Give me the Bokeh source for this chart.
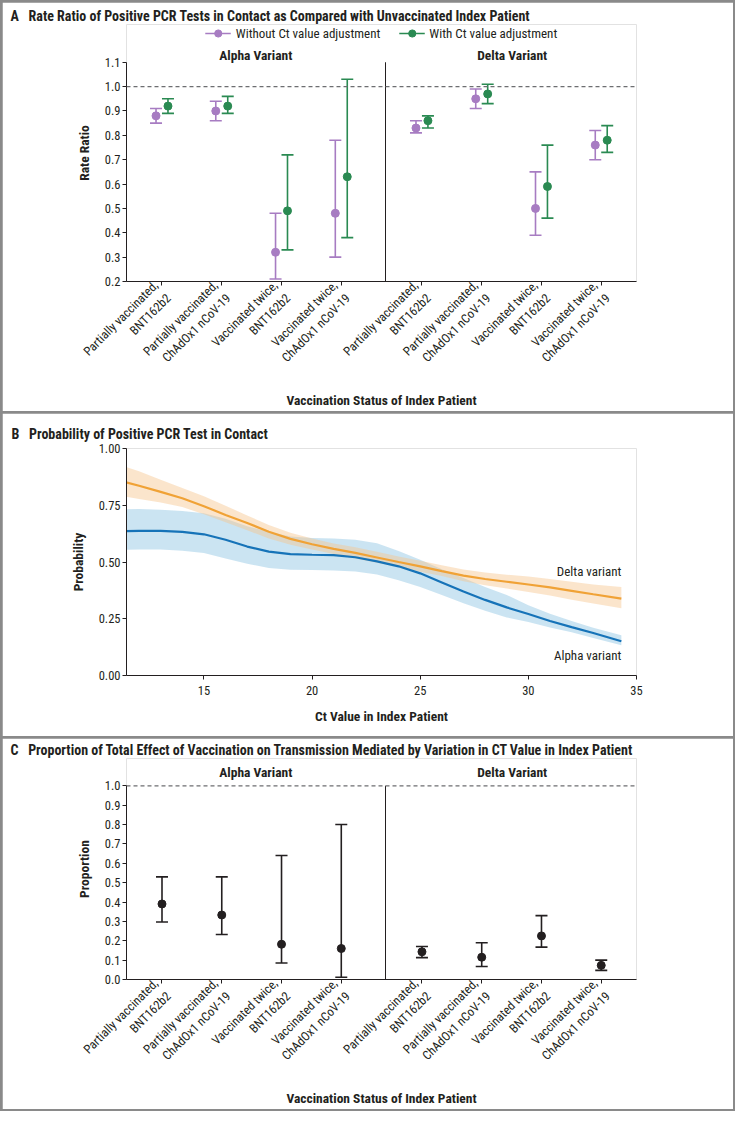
import numpy as np
from bokeh.plotting import figure
from bokeh.models import (Range1d, FixedTicker, Label, Legend, LegendItem, Span,
                          PrintfTickFormatter)
from bokeh.layouts import column
from bokeh.embed import file_html
from bokeh.resources import INLINE

FONT = "Roboto Condensed, DejaVu Sans Condensed, Lato, sans-serif"
TXT = "#231f20"
PURPLE = "#a77cc2"
GREEN = "#2a8a52"
BLUE = "#1673b8"
ORANGE = "#f0a236"

# ---------------- data ----------------
categories = ["Partially vaccinated,\nBNT162b2", "Partially vaccinated,\nChAdOx1 nCoV-19",
              "Vaccinated twice,\nBNT162b2", "Vaccinated twice,\nChAdOx1 nCoV-19"]

# Panel A: rate ratio (without / with Ct value adjustment)
alpha_wo = [0.88, 0.90, 0.32, 0.48]
alpha_wo_lo = [0.85, 0.86, 0.21, 0.30]
alpha_wo_hi = [0.91, 0.94, 0.48, 0.78]
alpha_w = [0.92, 0.92, 0.49, 0.63]
alpha_w_lo = [0.89, 0.89, 0.33, 0.38]
alpha_w_hi = [0.95, 0.96, 0.72, 1.03]
delta_wo = [0.83, 0.95, 0.50, 0.76]
delta_wo_lo = [0.81, 0.91, 0.39, 0.70]
delta_wo_hi = [0.86, 0.99, 0.65, 0.82]
delta_w = [0.86, 0.97, 0.59, 0.78]
delta_w_lo = [0.83, 0.93, 0.46, 0.73]
delta_w_hi = [0.88, 1.01, 0.76, 0.84]

# Panel B: probability of positive PCR test by Ct value
ct = [11.4, 12, 13, 14, 15, 16, 17, 18, 19, 20, 21, 22, 23, 24, 25, 26, 27, 28, 29, 30, 31, 32, 33, 34.3]
delta_prob = [0.851, 0.836, 0.809, 0.781, 0.746, 0.707, 0.672, 0.633, 0.602, 0.578, 0.558, 0.540,
              0.520, 0.500, 0.481, 0.460, 0.440, 0.425, 0.413, 0.401, 0.388, 0.373, 0.358, 0.339]
delta_prob_lo = [0.787, 0.778, 0.762, 0.742, 0.710, 0.675, 0.640, 0.603, 0.576, 0.555, 0.535, 0.515,
                 0.497, 0.478, 0.457, 0.438, 0.415, 0.398, 0.383, 0.368, 0.352, 0.334, 0.317, 0.296]
delta_prob_hi = [0.918, 0.900, 0.862, 0.826, 0.790, 0.748, 0.705, 0.663, 0.629, 0.603, 0.582, 0.565,
                 0.545, 0.524, 0.506, 0.486, 0.467, 0.454, 0.444, 0.436, 0.425, 0.413, 0.401, 0.390]
alpha_prob = [0.636, 0.637, 0.637, 0.633, 0.622, 0.598, 0.568, 0.546, 0.535, 0.532, 0.530, 0.521,
              0.503, 0.481, 0.450, 0.410, 0.370, 0.333, 0.300, 0.271, 0.240, 0.213, 0.187, 0.151]
alpha_prob_lo = [0.554, 0.555, 0.555, 0.550, 0.540, 0.515, 0.492, 0.474, 0.466, 0.465, 0.463, 0.458,
                 0.445, 0.420, 0.390, 0.355, 0.318, 0.285, 0.256, 0.236, 0.212, 0.190, 0.165, 0.133]
alpha_prob_hi = [0.732, 0.733, 0.730, 0.725, 0.715, 0.690, 0.658, 0.633, 0.612, 0.606, 0.603, 0.598,
                 0.583, 0.548, 0.510, 0.468, 0.430, 0.390, 0.355, 0.310, 0.272, 0.240, 0.210, 0.177]

# Panel C: proportion mediated by Ct value
prop_alpha = [0.39, 0.333, 0.182, 0.16]
prop_alpha_lo = [0.297, 0.232, 0.085, 0.012]
prop_alpha_hi = [0.53, 0.53, 0.64, 0.80]
prop_delta = [0.143, 0.115, 0.225, 0.073]
prop_delta_lo = [0.113, 0.067, 0.167, 0.047]
prop_delta_hi = [0.17, 0.19, 0.33, 0.10]

# ---------------- layout helpers ----------------
W = 731
alpha_pos = [1.0, 2.0, 3.0, 4.0]
delta_pos = [5.35, 6.35, 7.35, 8.35]
SEP = 4.74
XR = (0.406, 8.94)
DODGE = 0.1
NB = "\u00a0"


def base_fig(h, xr, yr, left, right, top, bottom):
    p = figure(width=W, height=h, x_range=Range1d(*xr), y_range=Range1d(*yr),
               output_backend="svg", toolbar_location=None,
               min_border_left=left, min_border_right=right,
               min_border_top=top, min_border_bottom=bottom)
    p.outline_line_color = None
    p.xgrid.visible = False
    p.ygrid.visible = False
    p.background_fill_color = "white"
    p.border_fill_color = "white"
    for ax in (p.xaxis[0], p.yaxis[0]):
        ax.axis_line_color = TXT
        ax.major_tick_line_color = TXT
        ax.minor_tick_line_color = None
        ax.major_tick_out = 4
        ax.major_tick_in = 0
        ax.major_label_text_font = FONT
        ax.major_label_text_font_size = "12.5px"
        ax.major_label_text_color = TXT
        ax.axis_label_text_font = FONT
        ax.axis_label_text_font_size = "13.5px"
        ax.axis_label_text_font_style = "bold"
        ax.axis_label_text_color = TXT
    p.yaxis.major_label_standoff = 2
    return p


def panel_title(p, letter, text, offset, standoff):
    p.title.text = letter + NB * 3 + text
    p.title.align = "left"
    p.title.offset = offset
    p.title.standoff = standoff
    p.title.text_font = FONT
    p.title.text_font_size = "14px"
    p.title.text_font_style = "bold"
    p.title.text_color = TXT


def header(p, x, y, text):
    p.add_layout(Label(x=x, y=y, text=text, text_align="center", text_baseline="middle",
                       text_font=FONT, text_font_size="13.5px", text_font_style="bold",
                       text_color=TXT))


def errorbars(p, xs, mid, lo, hi, color, size, cap):
    seg = p.segment(x0=xs, y0=lo, x1=xs, y1=hi, line_color=color, line_width=1.6)
    p.scatter(x=xs, y=lo, marker="dash", size=cap, line_color=color, line_width=1.6)
    p.scatter(x=xs, y=hi, marker="dash", size=cap, line_color=color, line_width=1.6)
    pts = p.scatter(x=xs, y=mid, marker="circle", size=size, fill_color=color, line_color=color)
    return seg, pts


def category_axis(p):
    p.xaxis.ticker = FixedTicker(ticks=alpha_pos + delta_pos)
    p.xaxis.major_label_overrides = {float(v): lab for v, lab in
                                     zip(alpha_pos + delta_pos, categories + categories)}
    p.xaxis.major_label_orientation = np.pi / 4
    p.xaxis.major_label_standoff = 4
    p.xaxis.major_label_text_font_size = "12.5px"
    p.xaxis.axis_label = "Vaccination Status of Index Patient"
    p.xaxis.axis_label_standoff = 6


# ---------------- Panel A ----------------
pA = base_fig(409, XR, (0.2, 1.255), 124, 87, 22, 124)
pA.yaxis.bounds = (0.2, 1.1)
pA.yaxis.ticker = FixedTicker(ticks=[0.2, 0.3, 0.4, 0.5, 0.6, 0.7, 0.8, 0.9, 1.0, 1.1])
pA.yaxis.formatter = PrintfTickFormatter(format="%.1f")
pA.yaxis.axis_label = "Rate Ratio"
pA.yaxis.axis_label_standoff = 10
category_axis(pA)
pA.add_layout(Span(location=1.0, dimension="width", line_color="#6d6e71",
                   line_dash="4 3", line_width=1.2))
pA.segment(x0=[SEP], y0=[0.2], x1=[SEP], y1=[1.1], line_color=TXT, line_width=1)

ax_wo = [x - DODGE for x in alpha_pos] + [x - DODGE for x in delta_pos]
ax_w = [x + DODGE for x in alpha_pos] + [x + DODGE for x in delta_pos]
seg_wo, pts_wo = errorbars(pA, ax_wo, alpha_wo + delta_wo, alpha_wo_lo + delta_wo_lo,
                           alpha_wo_hi + delta_wo_hi, PURPLE, 8, 12)
seg_w, pts_w = errorbars(pA, ax_w, alpha_w + delta_w, alpha_w_lo + delta_w_lo,
                         alpha_w_hi + delta_w_hi, GREEN, 8, 12)
legA = Legend(items=[LegendItem(label="Without Ct value adjustment", renderers=[seg_wo, pts_wo]),
                     LegendItem(label="With Ct value adjustment", renderers=[seg_w, pts_w])],
              location="top_center", orientation="horizontal", border_line_color=None,
              background_fill_alpha=0, label_text_font=FONT, label_text_font_size="13px",
              label_text_color=TXT, glyph_width=26, glyph_height=18, spacing=18,
              padding=0, margin=0, label_standoff=5, label_height=18)
pA.add_layout(legA, "center")
header(pA, 2.57, 1.129, "Alpha Variant")
header(pA, 6.86, 1.129, "Delta Variant")
panel_title(pA, "A", "Rate Ratio of Positive PCR Tests in Contact as Compared with Unvaccinated Index Patient",
            -116, 2)

# ---------------- Panel B ----------------
pB = base_fig(323, (11.42, 35), (0, 1.0), 123, 97, 35, 61)
pB.yaxis.ticker = FixedTicker(ticks=[0, 0.25, 0.5, 0.75, 1.0])
pB.yaxis.formatter = PrintfTickFormatter(format="%.2f")
pB.yaxis.axis_label = "Probability"
pB.yaxis.axis_label_standoff = 10
pB.xaxis.ticker = FixedTicker(ticks=[15, 20, 25, 30, 35])
pB.xaxis.axis_label = "Ct Value in Index Patient"
pB.xaxis.axis_label_standoff = 10
pB.xaxis.major_label_standoff = 6
pB.varea(x=ct, y1=alpha_prob_lo, y2=alpha_prob_hi, fill_color="#8cc3e2", fill_alpha=0.45)
pB.varea(x=ct, y1=delta_prob_lo, y2=delta_prob_hi, fill_color="#f7c58f", fill_alpha=0.45)
pB.line(x=ct, y=delta_prob, line_color=ORANGE, line_width=2.2)
pB.line(x=ct, y=alpha_prob, line_color=BLUE, line_width=2.2)
pB.add_layout(Label(x=ct[-1], y=0.457, text="Delta variant", text_align="right",
                    text_baseline="middle", text_font=FONT, text_font_size="13px", text_color=TXT))
pB.add_layout(Label(x=ct[-1], y=0.089, text="Alpha variant", text_align="right",
                    text_baseline="middle", text_font=FONT, text_font_size="13px", text_color=TXT))
panel_title(pB, "B", "Probability of Positive PCR Test in Contact", -115, 14)

# ---------------- Panel C ----------------
pC = base_fig(371, XR, (0.0, 1.141), 124, 87, 20, 124)
pC.yaxis.bounds = (0.0, 1.0)
pC.yaxis.ticker = FixedTicker(ticks=[0.0, 0.1, 0.2, 0.3, 0.4, 0.5, 0.6, 0.7, 0.8, 0.9, 1.0])
pC.yaxis.formatter = PrintfTickFormatter(format="%.1f")
pC.yaxis.axis_label = "Proportion"
pC.yaxis.axis_label_standoff = 10
category_axis(pC)
pC.add_layout(Span(location=1.0, dimension="width", line_color="#6d6e71",
                   line_dash="4 3", line_width=1.2))
pC.segment(x0=[SEP], y0=[0.0], x1=[SEP], y1=[1.0], line_color=TXT, line_width=1)
errorbars(pC, alpha_pos + delta_pos, prop_alpha + prop_delta, prop_alpha_lo + prop_delta_lo,
          prop_alpha_hi + prop_delta_hi, TXT, 8, 12)
header(pC, 2.57, 1.073, "Alpha Variant")
header(pC, 6.86, 1.073, "Delta Variant")
panel_title(pC, "C", "Proportion of Total Effect of Vaccination on Transmission Mediated by Variation in CT Value in Index Patient",
            -116, 2)

layout = column(pA, pB, pC, spacing=2,
                styles={"background-color": "#8a8a8a", "padding": "2px"})

open("out.html", "w").write(file_html(layout, INLINE))
